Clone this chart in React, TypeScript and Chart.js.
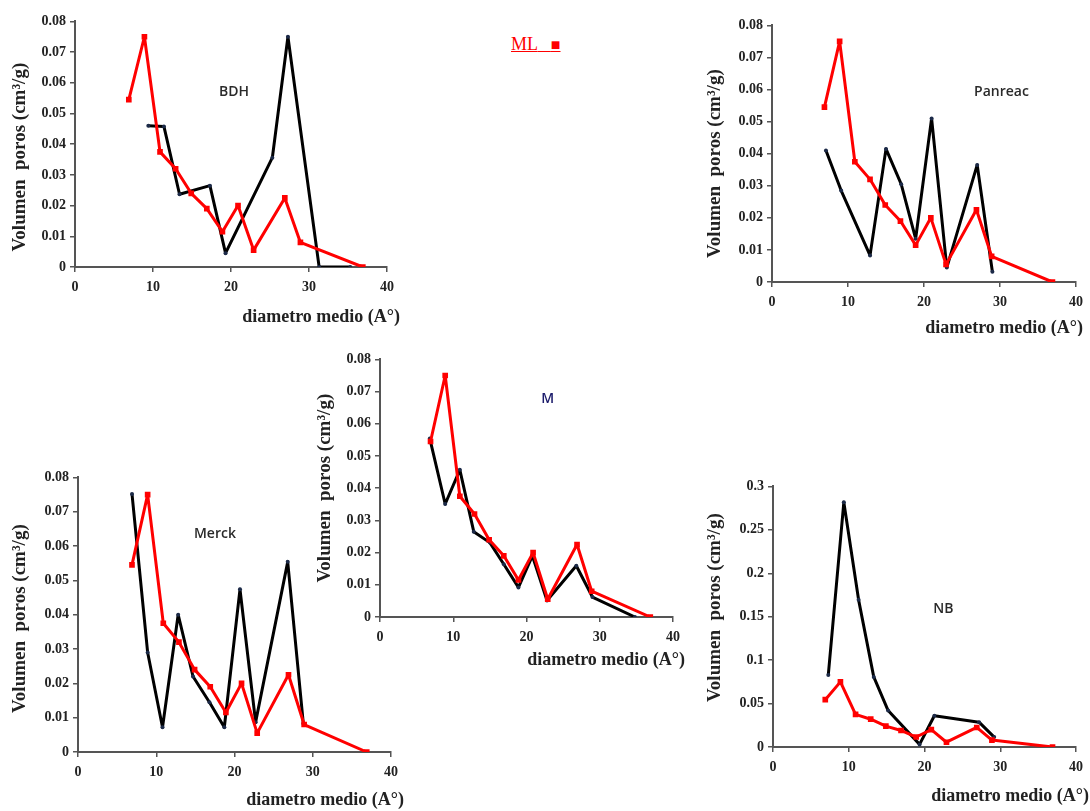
import React, { useEffect, useRef } from "react";
import { Chart, registerables } from "chart.js";

Chart.register(...registerables);

// ---------- DATA ----------
// ML reference series (red), same in every panel
const mlX = [6.9, 8.9, 10.9, 12.9, 14.9, 16.9, 18.9, 20.9, 22.9, 26.9, 28.9, 36.9];
const mlY = [0.0545, 0.075, 0.0375, 0.032, 0.024, 0.019, 0.0115, 0.02, 0.0055, 0.0225, 0.008, 0];

// BDH
const bdhX = [9.4, 11.4, 13.4, 17.3, 19.3, 25.3, 27.3, 31.3, 35.3];
const bdhY = [0.046, 0.0458, 0.0237, 0.0265, 0.0045, 0.0356, 0.075, 0, 0];

// Panreac
const panX = [7.1, 9.1, 12.9, 15.0, 17.0, 18.9, 21.0, 23.0, 27.0, 29.0];
const panY = [0.041, 0.0285, 0.0083, 0.0415, 0.0305, 0.0135, 0.051, 0.0045, 0.0365, 0.0032];

// Merck
const merX = [6.9, 8.9, 10.8, 12.8, 14.7, 16.8, 18.7, 20.7, 22.7, 26.8, 28.8];
const merY = [0.0752, 0.029, 0.0072, 0.04, 0.022, 0.0145, 0.0072, 0.0474, 0.0087, 0.0554, 0.0082];

// M
const mX = [6.8, 8.9, 10.9, 12.8, 15.0, 16.9, 18.9, 20.8, 22.8, 26.8, 29.0, 34.8];
const mY = [0.0554, 0.0351, 0.0457, 0.0265, 0.0231, 0.0164, 0.0092, 0.019, 0.0051, 0.0159, 0.0062, 0];

// NB
const nbX = [7.3, 9.35, 11.3, 13.3, 15.2, 19.35, 21.3, 27.2, 29.2];
const nbY = [0.083, 0.2817, 0.1694, 0.0807, 0.0419, 0.003, 0.036, 0.0286, 0.0114];

// tick labels
const xTicks = [0, 10, 20, 30, 40];
const yTicksSmall = [0, 0.01, 0.02, 0.03, 0.04, 0.05, 0.06, 0.07, 0.08];
const yTicksNB = [0, 0.05, 0.1, 0.15, 0.2, 0.25, 0.3];

const xTitle = "diametro medio (A°)";
const yTitle = "Volumen  poros (cm³/g)";
const legendText = "ML";

// ---------- LAYOUT ----------
type PanelCfg = {
  name: string;
  xs: number[];
  ys: number[];
  yTicks: number[];
  yMax: number;
  labelX: number;
  labelY: number;
  labelColor: string;
  left: number;
  top: number;
  width: number;
  height: number;
  yW: number;
  xH: number;
  padTop: number;
  padRight: number;
  xDx: number;
  xDy: number;
  yDy: number;
};

const panels: PanelCfg[] = [
  { name: "BDH", xs: bdhX, ys: bdhY, yTicks: yTicksSmall, yMax: 0.08, labelX: 20.4, labelY: 0.0571, labelColor: "#2a2a2a",
    left: 9, top: 9, width: 393, height: 319, yW: 66, xH: 61, padTop: 10, padRight: 15, xDx: 13, xDy: 50, yDy: 13 },
  { name: "Panreac", xs: panX, ys: panY, yTicks: yTicksSmall, yMax: 0.08, labelX: 30.2, labelY: 0.0593, labelColor: "#2a2a2a",
    left: 704, top: 13, width: 386, height: 323, yW: 68, xH: 54, padTop: 10, padRight: 9, xDx: 7, xDy: 46, yDy: 10 },
  { name: "Merck", xs: merX, ys: merY, yTicks: yTicksSmall, yMax: 0.08, labelX: 17.5, labelY: 0.0635, labelColor: "#2a2a2a",
    left: 9, top: 465, width: 399, height: 345, yW: 69, xH: 58, padTop: 10, padRight: 17, xDx: 13, xDy: 48, yDy: 4 },
  { name: "M", xs: mX, ys: mY, yTicks: yTicksSmall, yMax: 0.08, labelX: 22.9, labelY: 0.0677, labelColor: "#1b1b6b",
    left: 314, top: 347, width: 376, height: 323, yW: 66, xH: 53, padTop: 10, padRight: 17, xDx: 12, xDy: 43, yDy: 0 },
  { name: "NB", xs: nbX, ys: nbY, yTicks: yTicksNB, yMax: 0.3, labelX: 22.5, labelY: 0.1586, labelColor: "#2a2a2a",
    left: 704, top: 474, width: 386, height: 332, yW: 69, xH: 59, padTop: 10, padRight: 10, xDx: 13, xDy: 49, yDy: -9 },
];

const nameLabelPlugin = {
  id: "nameLabel",
  afterDatasetsDraw(chart: any, _args: any, opts: any) {
    const { ctx, scales } = chart;
    ctx.save();
    ctx.font = '600 14px "Open Sans"';
    ctx.fillStyle = opts.color;
    ctx.textAlign = "center";
    ctx.textBaseline = "middle";
    ctx.fillText(opts.text, scales.x.getPixelForValue(opts.x), scales.y.getPixelForValue(opts.y));
    ctx.restore();
  },
};

const axisTitlePlugin = {
  id: "axisTitles",
  afterDraw(chart: any, _args: any, opts: any) {
    const { ctx, chartArea } = chart;
    ctx.save();
    ctx.fillStyle = "#222222";
    ctx.font = 'bold 18px "Liberation Serif"';
    ctx.textAlign = "right";
    ctx.textBaseline = "middle";
    ctx.fillText(opts.xText, chartArea.right + opts.xDx, chartArea.bottom + opts.xDy);
    ctx.translate(11, (chartArea.top + chartArea.bottom) / 2 + opts.yDy);
    ctx.rotate(-Math.PI / 2);
    ctx.font = 'bold 19px "Liberation Serif"';
    ctx.textAlign = "center";
    ctx.fillText(opts.yText, 0, 0);
    ctx.restore();
  },
};

const tickFont = { family: '"Liberation Serif", serif', size: 14, weight: "bold" as const };
const axisColor = "#555555";

function Panel({ p }: { p: PanelCfg }) {
  const ref = useRef<HTMLCanvasElement>(null);
  useEffect(() => {
    const chart = new Chart(ref.current!, {
      type: "line",
      data: {
        datasets: [
          {
            label: legendText,
            data: mlX.map((x, i) => ({ x, y: mlY[i] })),
            borderColor: "#ff0000",
            backgroundColor: "#ff0000",
            borderWidth: 3,
            borderJoinStyle: "round",
            pointStyle: "rect",
            pointRadius: 4,
            pointBorderWidth: 0,
            pointBackgroundColor: "#ff0000",
            order: 0,
          },
          {
            label: p.name,
            data: p.xs.map((x, i) => ({ x, y: p.ys[i] })),
            borderColor: "#000000",
            backgroundColor: "#1c2a48",
            borderWidth: 3,
            borderJoinStyle: "round",
            pointRadius: 2,
            pointBorderWidth: 0,
            pointBackgroundColor: "#1c2a48",
            order: 1,
          },
        ],
      },
      options: {
        animation: false,
        responsive: false,
        layout: { padding: { top: p.padTop, right: p.padRight, left: 0, bottom: 0 } },
        plugins: {
          legend: { display: false },
          tooltip: { enabled: false },
          // @ts-ignore
          nameLabel: { text: p.name, x: p.labelX, y: p.labelY, color: p.labelColor },
          // @ts-ignore
          axisTitles: { xText: xTitle, yText: yTitle, xDx: p.xDx, xDy: p.xDy, yDy: p.yDy },
        },
        scales: {
          x: {
            type: "linear",
            min: 0,
            max: 40,
            afterFit: (s: any) => {
              s.height = p.xH;
            },
            afterBuildTicks: (s: any) => {
              s.ticks = xTicks.map((v) => ({ value: v }));
            },
            ticks: { color: "#222", font: tickFont, padding: 7, autoSkip: false, maxRotation: 0 },
            grid: { display: true, drawOnChartArea: false, drawTicks: true, tickLength: 5, color: axisColor, lineWidth: 1.5 },
            border: { display: true, color: axisColor, width: 2 },
            title: { display: false },
          },
          y: {
            type: "linear",
            min: 0,
            max: p.yMax,
            afterFit: (s: any) => {
              s.width = p.yW;
            },
            afterBuildTicks: (s: any) => {
              s.ticks = p.yTicks.map((v) => ({ value: v }));
            },
            ticks: {
              color: "#222",
              font: tickFont,
              padding: 4,
              autoSkip: false,
              callback: (v: any) => String(Number(Number(v).toFixed(2))),
            },
            grid: { display: true, drawOnChartArea: false, drawTicks: true, tickLength: 5, color: axisColor, lineWidth: 1.5 },
            border: { display: true, color: axisColor, width: 2 },
            title: { display: false },
          },
        },
      },
      plugins: [nameLabelPlugin as any, axisTitlePlugin as any],
    });
    return () => chart.destroy();
  }, [p]);
  return (
    <canvas
      ref={ref}
      width={p.width}
      height={p.height}
      style={{ position: "absolute", left: p.left, top: p.top, width: p.width, height: p.height }}
    />
  );
}

export default function App() {
  return (
    <div
      style={{
        position: "fixed",
        left: 0,
        top: 0,
        width: 1090,
        height: 811,
        background: "#ffffff",
        overflow: "hidden",
      }}
    >
      {panels.map((p) => (
        <Panel key={p.name} p={p} />
      ))}
      <div
        style={{
          position: "absolute",
          left: 511,
          top: 34,
          color: "#ff0000",
          fontFamily: '"Liberation Serif", serif',
          fontSize: 18,
          textDecoration: "underline",
          whiteSpace: "pre",
        }}
      >
        {legendText}{"   "}<span style={{ fontSize: 16 }}>■</span>
      </div>
    </div>
  );
}
